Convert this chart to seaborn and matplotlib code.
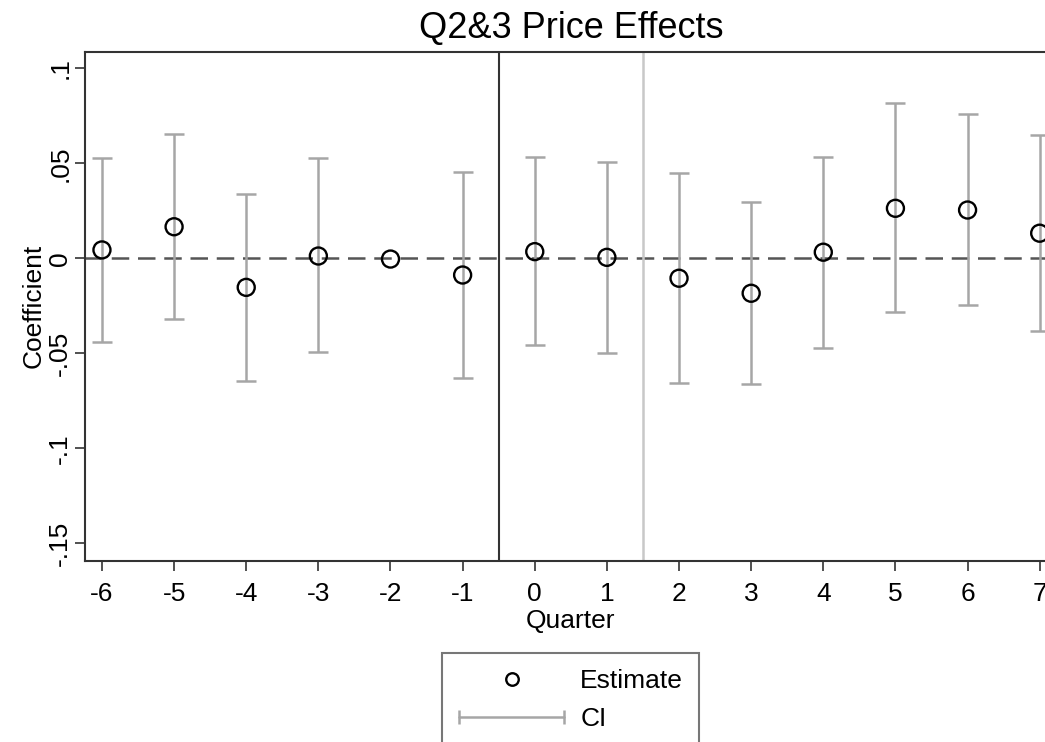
import numpy as np
import pandas as pd
import matplotlib
matplotlib.use("Agg")
import matplotlib.pyplot as plt
import seaborn as sns
from matplotlib.lines import Line2D
from matplotlib.legend_handler import HandlerLine2D

quarters = [-6, -5, -4, -3, -2, -1, 0, 1, 2, 3, 4, 5, 6, 7]
estimate = [0.0044, 0.0166, -0.0153, 0.0012, -0.0004, -0.0088, 0.0035, 0.0005,
            -0.0105, -0.0184, 0.0032, 0.0263, 0.0254, 0.0132]
ci_high = [0.0526, 0.0654, 0.0338, 0.0526, np.nan, 0.0456, 0.0533, 0.0509,
           0.0447, 0.0295, 0.0533, 0.0816, 0.0758, 0.0647]
ci_low = [-0.0439, -0.0319, -0.0644, -0.0491, np.nan, -0.0632, -0.0458, -0.0497,
          -0.0658, -0.0662, -0.0470, -0.0281, -0.0246, -0.0383]
y_ticks = [-0.15, -0.1, -0.05, 0, 0.05, 0.1]
y_tick_labels = ["-.15", "-.1", "-.05", "0", ".05", ".1"]

df = pd.DataFrame({"Quarter": quarters, "Estimate": estimate,
                   "lo": ci_low, "hi": ci_high})

sns.set_theme(style="white")
plt.rcParams["font.family"] = ["Liberation Sans", "DejaVu Sans"]
plt.rcParams["text.color"] = "black"
plt.rcParams["axes.labelcolor"] = "black"

fig = plt.figure(figsize=(10.45, 7.42), dpi=100)
ax = fig.add_axes([0.081, 0.2439, 1.0115 - 0.081, 0.6864])

ci_color = "#a6a6a6"
d = df.dropna()
ax.errorbar(d["Quarter"], d["Estimate"],
            yerr=[d["Estimate"] - d["lo"], d["hi"] - d["Estimate"]],
            fmt="none", ecolor=ci_color, elinewidth=1.8, capsize=7, capthick=1.8,
            zorder=2)

ax.axhline(0, color="#555555", lw=1.8, ls=(0, (7, 3.5)), zorder=1)
ax.axvline(-0.5, color="#333333", lw=1.5, zorder=1)
ax.axvline(1.5, color="#c8c8c8", lw=1.8, zorder=1)

sns.scatterplot(data=df, x="Quarter", y="Estimate", ax=ax, marker="o", s=150,
                facecolor="none", edgecolor="black", linewidth=1.7, zorder=3,
                legend=False)

ax.set_xlim(-6.24, 7.24)
ax.set_ylim(-0.1593, 0.1087)
ax.set_xticks(quarters)
ax.set_xticklabels([str(q) for q in quarters])
ax.set_yticks(y_ticks)
ax.set_yticklabels(y_tick_labels, rotation=90, va="center")

for s in ["left", "bottom", "top", "right"]:
    ax.spines[s].set_visible(True)
    ax.spines[s].set_color("#333333")
    ax.spines[s].set_linewidth(1.5)

ax.tick_params(axis="both", which="major", direction="out", length=7, width=1.2,
               color="#333333", labelsize=19, labelcolor="black", bottom=True, left=True)
ax.tick_params(axis="y", pad=2)
ax.tick_params(axis="x", pad=8)

ax.set_xlabel("Quarter", fontsize=19, labelpad=2)
ax.set_ylabel("Coefficient", fontsize=19, labelpad=2)
ax.set_title("Q2&3 Price Effects", fontsize=26, pad=10, color="black")

h_est = Line2D([], [], ls="none", marker="o", markersize=9, markerfacecolor="none",
               markeredgecolor="black", markeredgewidth=1.7)
h_ci = Line2D([], [], color=ci_color, lw=1.8, marker="|", markersize=10,
              markeredgewidth=1.8)
leg = fig.legend([h_est, h_ci], ["Estimate", "CI"], loc="upper center",
                 bbox_to_anchor=(0.5464, 1 - 653 / 742), fontsize=19,
                 frameon=True, fancybox=False, handlelength=4.0,
                 borderpad=0.62, labelspacing=0.52, handletextpad=0.6,
                 borderaxespad=0,
                 handler_map={h_est: HandlerLine2D(numpoints=1),
                              h_ci: HandlerLine2D(numpoints=2, marker_pad=0)})
leg.get_frame().set_edgecolor("#555555")
leg.get_frame().set_linewidth(1.5)

fig.savefig("out.png", dpi=100)
